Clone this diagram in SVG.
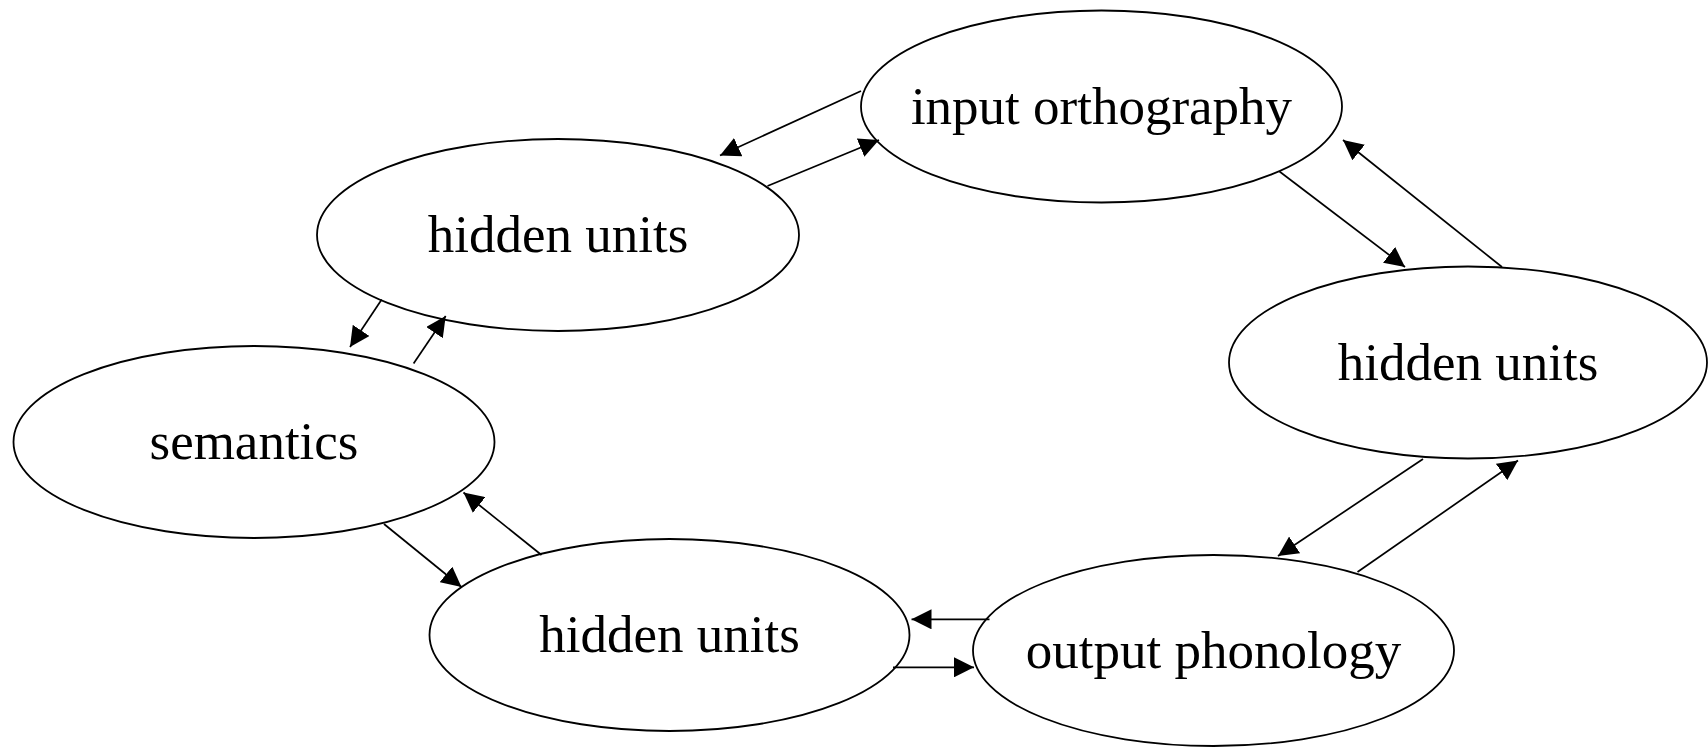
<svg xmlns="http://www.w3.org/2000/svg" width="1708" height="747" viewBox="0 0 1708 747">
<style>
.node ellipse{fill:#fff;stroke:#000;stroke-width:1.8}
.node text{font-family:"Liberation Serif","Times New Roman",serif;font-size:53px;fill:#000;text-anchor:middle}
.edges line{stroke:#000;stroke-width:1.7;marker-end:url(#ah)}
</style>
<defs>
<marker id="ah" markerUnits="userSpaceOnUse" markerWidth="20" markerHeight="20" refX="20" refY="10" orient="auto">
<path d="M0,0 L20,10 L0,20 z" fill="#000"/>
</marker>
</defs>
<rect width="1708" height="747" fill="#fff"/>
<g id="input_orthography" class="node"><ellipse cx="1101.5" cy="106.5" rx="240.5" ry="96"/><text x="1101.5" y="123.5">input orthography</text></g>
<g id="hidden_top" class="node"><ellipse cx="558" cy="235" rx="241" ry="96"/><text x="558" y="252">hidden units</text></g>
<g id="hidden_right" class="node"><ellipse cx="1468" cy="362.5" rx="239" ry="96"/><text x="1468" y="379.5">hidden units</text></g>
<g id="semantics" class="node"><ellipse cx="254" cy="442" rx="240.5" ry="96"/><text x="254" y="459">semantics</text></g>
<g id="hidden_bottom" class="node"><ellipse cx="669.5" cy="635" rx="240" ry="96"/><text x="669.5" y="652">hidden units</text></g>
<g id="output_phonology" class="node"><ellipse cx="1213.5" cy="650.5" rx="240.5" ry="95.5"/><text x="1213.5" y="667.5">output phonology</text></g>
<g id="connectors" class="edges">
<line x1="861" y1="91" x2="720" y2="155.5"/>
<line x1="767.5" y1="186" x2="879" y2="140"/>
<line x1="1279.5" y1="171.5" x2="1405" y2="267"/>
<line x1="1502" y1="267" x2="1343" y2="140"/>
<line x1="1423" y1="459" x2="1278" y2="556"/>
<line x1="1357.5" y1="572" x2="1518" y2="460.5"/>
<line x1="989.5" y1="619.3" x2="911.5" y2="619.3"/>
<line x1="893" y1="667.3" x2="974" y2="667.3"/>
<line x1="384" y1="524" x2="461.5" y2="587"/>
<line x1="541.5" y1="555" x2="463.5" y2="492.5"/>
<line x1="381.7" y1="299.5" x2="350" y2="347"/>
<line x1="413.6" y1="363.5" x2="445.7" y2="316"/>
</g>
</svg>
